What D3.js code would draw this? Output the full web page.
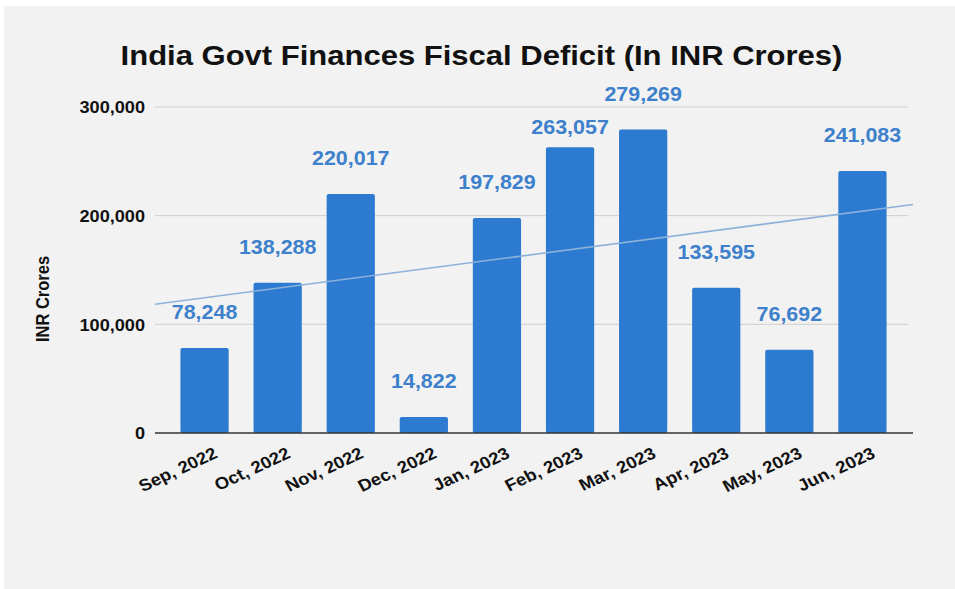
<!DOCTYPE html>
<html>
<head>
<meta charset="utf-8">
<script src="https://cdn.jsdelivr.net/npm/d3@7"></script>
<style>
html,body{margin:0;padding:0;background:#fff;}
svg{display:block;font-family:"Liberation Sans",Arial,sans-serif;}
</style>
</head>
<body>
<svg id="chart" width="955" height="589"></svg>
<script>
const months = ["Sep, 2022","Oct, 2022","Nov, 2022","Dec, 2022","Jan, 2023","Feb, 2023","Mar, 2023","Apr, 2023","May, 2023","Jun, 2023"];
const deficit = [78248,138288,220017,14822,197829,263057,279269,133595,76692,241083];
const yTicks = [0,100000,200000,300000];
const titleText = "India Govt Finances Fiscal Deficit (In INR Crores)";
const yTitle = "INR Crores";

(function draw() {
const SX = 1.1; // horizontal text stretch seen in the reference
const svg = d3.select("#chart");
svg.append("rect").attr("x",4).attr("y",6).attr("width",951).attr("height",583).attr("fill","#f2f2f2");

const plotLeft = 155, plotRight = 912, plotBottom = 433, plotTop = 107;
const x = d3.scaleBand().domain(months).range([plotLeft, plotRight]).paddingInner(0.34).paddingOuter(0.348);
const y = d3.scaleLinear().domain([0, 300000]).range([plotBottom, plotTop]);
const fmt = d3.format(",");

// gridlines
svg.append("g").selectAll("line").data(yTicks.filter(d => d > 0)).join("line")
  .attr("x1", plotLeft).attr("x2", 908)
  .attr("y1", d => y(d)).attr("y2", d => y(d))
  .attr("stroke", "#cfcfcf").attr("stroke-width", 1);

// y axis labels
const yAxis = svg.append("g").attr("transform", `translate(${plotLeft},0)`)
  .call(d3.axisLeft(y).tickValues(yTicks).tickSize(0).tickFormat(fmt));
yAxis.select(".domain").remove();
yAxis.selectAll("text")
  .attr("x", -10 / SX)
  .attr("dy", "0.36em")
  .attr("transform", `scale(${SX},1)`)
  .attr("fill", "#111")
  .attr("font-family", "Liberation Sans, Arial, sans-serif")
  .attr("font-weight", "bold")
  .attr("font-size", 16.5);

// bars
svg.append("g").selectAll("rect").data(deficit).join("rect")
  .attr("x", (d, i) => x(months[i]))
  .attr("width", x.bandwidth())
  .attr("y", d => y(d))
  .attr("height", d => plotBottom - y(d))
  .attr("rx", 2)
  .attr("fill", "#2c7bd0");

// trendline (least-squares fit of the series)
const n = deficit.length;
const mx = d3.mean(d3.range(n)), my = d3.mean(deficit);
const slope = d3.sum(deficit, (v, i) => (i - mx) * (v - my)) / d3.sum(d3.range(n), i => (i - mx) * (i - mx));
const c0 = x(months[0]) + x.bandwidth() / 2;
const step = x.step();
const trendAt = px => my + slope * ((px - c0) / step - mx);
svg.append("line")
  .attr("x1", plotLeft).attr("y1", y(trendAt(plotLeft)))
  .attr("x2", 913).attr("y2", y(trendAt(913)))
  .attr("stroke", "#8db2da").attr("stroke-width", 1.6);

// zero axis line
svg.append("line").attr("x1", plotLeft).attr("x2", 913).attr("y1", plotBottom).attr("y2", plotBottom)
  .attr("stroke", "#333").attr("stroke-width", 1.6);

// value labels, with simple collision avoidance: a label that would overlap
// a taller neighbour's label drops to sit just above its own bar
const labels = svg.append("g").selectAll("text").data(deficit).join("text")
  .attr("text-anchor", "middle")
  .attr("font-size", 19.5)
  .attr("font-weight", "bold")
  .attr("fill", "#3d80cc")
  .text(d => fmt(d));
const boxes = [];
labels.each(function(d, i) {
  const w = this.getComputedTextLength() * SX;
  const cx = x(months[i]) + x.bandwidth() / 2;
  boxes.push({cx, w, base: y(d) - 29, top: y(d)});
});
boxes.forEach((b, i) => {
  [i - 1, i + 1].forEach(j => {
    const o = boxes[j];
    if (!o || deficit[j] <= deficit[i]) return;
    const xOverlap = Math.abs(b.cx - o.cx) < (b.w + o.w) / 2;
    const yOverlap = Math.abs(b.base - o.base) < 20;
    if (xOverlap && yOverlap) b.base = b.top - 13;
  });
});
labels.attr("transform", (d, i) => `translate(${boxes[i].cx},${boxes[i].base}) scale(${SX},1)`);

// x labels
svg.append("g").selectAll("text").data(months).join("text")
  .attr("transform", d => `translate(${x(d) + x.bandwidth() / 2 + 14},457) scale(${SX},1) rotate(-27)`)
  .attr("text-anchor", "end")
  .attr("font-size", 16.8)
  .attr("font-weight", "bold")
  .attr("fill", "#111")
  .text(d => d);

// y title
svg.append("text")
  .attr("transform", `translate(49,299) scale(${SX},1) rotate(-90)`)
  .attr("text-anchor", "middle")
  .attr("font-size", 16.5)
  .attr("font-weight", "bold")
  .attr("fill", "#111")
  .text(yTitle);

// title
svg.append("text")
  .attr("transform", `translate(481.5,65) scale(${SX},1)`)
  .attr("text-anchor", "middle")
  .attr("font-size", 28.2)
  .attr("font-weight", "bold")
  .attr("fill", "#111")
  .text(titleText);
})();
</script>
</body>
</html>
